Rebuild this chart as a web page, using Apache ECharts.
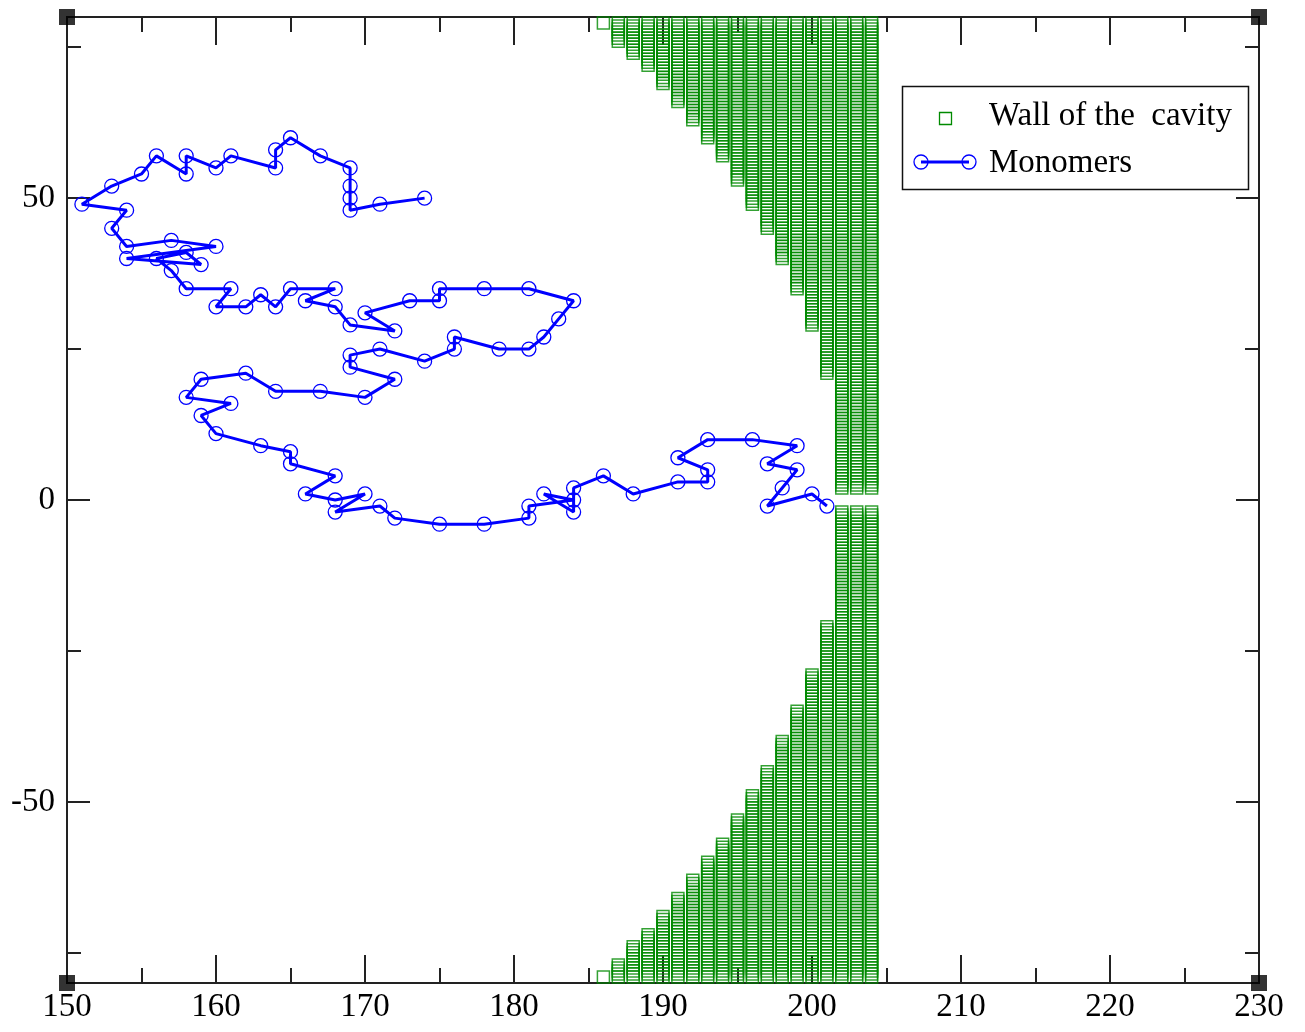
<!DOCTYPE html>
<html><head><meta charset="utf-8">
<script src="https://cdn.jsdelivr.net/npm/echarts@6/dist/echarts.min.js"></script>
<style>html,body{margin:0;padding:0;background:#fff}#c{width:1305px;height:1032px}</style>
</head><body><div id="c"></div>
<script>
// ---- tick labels ----
const xTickLabels = [150, 160, 170, 180, 190, 200, 210, 220, 230];
const xMinorTicks = [155, 165, 175, 185, 195, 205, 215, 225];
const yTickLabels = [-50, 0, 50];
const yMinorTicks = [-75, -25, 25, 75];

// ---- wall of the cavity: lattice columns and the |y| where each column starts ----
const wallColumnX   = [186, 187, 188, 189, 190, 191, 192, 193, 194, 195, 196, 197, 198, 199, 200, 201, 202, 203, 204];
const wallUpperEdge = [79, 76, 74, 72, 69, 66, 63, 60, 57, 53, 49, 45, 40, 35, 29, 21, 2, 2, 2];
const wallLowerEdge = [79, 77, 74, 72, 69, 66, 63, 60, 57, 53, 49, 45, 40, 35, 29, 21, 2, 2, 2];
const wallOuterY = 79;
const wallRowStep = 0.5;

// ---- monomers (chain, in order) ----
const monomerX = [174,171,169,169,169,169,167,165,164,164,
                  161,160,158,158,156,155,153,151,154,153,
                  154,157,160,154,159,158,156,157,158,161,
                  160,162,163,164,165,168,166,168,169,172,
                  170,173,175,175,178,181,184,183,182,181,
                  179,176,176,174,171,169,169,172,170,167,
                  164,162,159,158,161,159,160,163,165,165,
                  168,166,168,170,168,171,172,175,178,181,
                  181,184,182,184,184,186,188,191,193,193,
                  191,193,196,199,197,199,198,197,200,201];
const monomerY = [50,49,48,50,52,55,57,60,58,55,
                  57,55,57,54,57,54,52,49,48,45,
                  42,43,42,40,39,41,40,38,35,35,
                  32,32,34,32,35,35,33,32,29,28,
                  31,33,33,35,35,35,33,30,27,25,
                  25,27,25,23,25,24,22,20,17,18,
                  18,21,20,17,16,14,11,9,8,6,
                  4,1,0,1,-2,-1,-3,-4,-4,-3,
                  -1,0,1,-2,2,4,1,3,3,5,
                  7,10,10,9,6,5,2,-1,1,-1];

// ---- frame corners ----
const cornerX = [150, 230];
const cornerY = [-80, 80];

// ---- build data ----
const wallData = [];
wallColumnX.forEach((x, i) => {
  for (let y = wallUpperEdge[i]; y <= wallOuterY + 1e-9; y += wallRowStep) wallData.push([x, y]);
  for (let y = -wallOuterY; y <= -wallLowerEdge[i] + 1e-9; y += wallRowStep) wallData.push([x, y]);
});
const monoData = monomerX.map((x, i) => [x, monomerY[i]]);
const cornerData = [];
cornerX.forEach(x => cornerY.forEach(y => cornerData.push([x, y])));

const FONT = '"Liberation Serif", "Times New Roman", serif';
const AX = '#222';
const GREEN = '#008a00';
const BLUE = '#0000ff';

function xAx(pos, ticks, len, labels) {
  return {
    type: 'value', position: pos, min: 150, max: 230, interval: 10,
    axisLine: { show: true, onZero: false, lineStyle: { color: AX, width: 2 } },
    axisTick: { show: true, inside: true, length: len, customValues: ticks, lineStyle: { color: '#222', width: 2 } },
    axisLabel: labels ? { show: true, customValues: labels, margin: 8, color: '#000', fontFamily: FONT, fontSize: 33 } : { show: false },
    splitLine: { show: false }
  };
}
function yAx(pos, ticks, len, labels) {
  return {
    type: 'value', position: pos, min: -80, max: 80,
    axisLine: { show: true, onZero: false, lineStyle: { color: AX, width: 2 } },
    axisTick: { show: true, inside: true, length: len, customValues: ticks, lineStyle: { color: '#222', width: 2 } },
    axisLabel: labels ? { show: true, customValues: labels, margin: 12, color: '#000', fontFamily: FONT, fontSize: 33 } : { show: false },
    splitLine: { show: false }
  };
}

const chart = echarts.init(document.getElementById('c'), null, { renderer: 'canvas' });
chart.setOption({
  animation: false,
  backgroundColor: '#fff',
  grid: { left: 67, right: 46, top: 17, bottom: 49, containLabel: false, outerBoundsMode: 'none' },
  xAxis: [
    xAx('bottom', xTickLabels, 28, xTickLabels),
    xAx('bottom', xMinorTicks, 15, null),
    xAx('top', xTickLabels, 28, null),
    xAx('top', xMinorTicks, 15, null)
  ],
  yAxis: [
    yAx('left', yTickLabels, 23, yTickLabels),
    yAx('left', yMinorTicks, 14, null),
    yAx('right', yTickLabels, 23, null),
    yAx('right', yMinorTicks, 14, null)
  ],
  series: [
    {
      name: 'Wall of the  cavity', type: 'scatter', data: wallData,
      symbol: 'rect', symbolSize: 12,
      itemStyle: { color: 'rgba(0,0,0,0)', borderColor: GREEN, borderWidth: 1.5 },
      silent: true, z: 2, large: false
    },
    {
      name: 'Monomers', type: 'line', data: monoData,
      symbol: 'circle', symbolSize: 14, showAllSymbol: true,
      lineStyle: { color: BLUE, width: 3 },
      itemStyle: { color: 'rgba(0,0,0,0)', borderColor: BLUE, borderWidth: 1.3 },
      silent: true, z: 3
    },
    {
      name: 'corners', type: 'scatter', data: cornerData,
      symbol: 'rect', symbolSize: 16, clip: false,
      itemStyle: { color: '#000' }, silent: true, z: 5
    }
  ],
  graphic: [
    { type: 'rect', shape: { x: 902.5, y: 86.5, width: 346, height: 103 },
      style: { fill: '#fff', stroke: '#111', lineWidth: 1.5 }, z: 10 },
    { type: 'rect', shape: { x: 939.5, y: 112.5, width: 12, height: 12 },
      style: { fill: 'none', stroke: GREEN, lineWidth: 1.3 }, z: 11 },
    { type: 'line', shape: { x1: 921, y1: 162, x2: 969, y2: 162 },
      style: { stroke: BLUE, lineWidth: 3 }, z: 11 },
    { type: 'circle', shape: { cx: 921, cy: 162, r: 7 },
      style: { fill: 'none', stroke: BLUE, lineWidth: 1.3 }, z: 11 },
    { type: 'circle', shape: { cx: 969, cy: 162, r: 7 },
      style: { fill: 'none', stroke: BLUE, lineWidth: 1.3 }, z: 11 },
    { type: 'text', x: 989, y: 116, z: 11,
      style: { text: 'Wall of the  cavity', font: '33px ' + FONT, fill: '#000', textVerticalAlign: 'middle', verticalAlign: 'middle' } },
    { type: 'text', x: 989, y: 163, z: 11,
      style: { text: 'Monomers', font: '33px ' + FONT, fill: '#000', textVerticalAlign: 'middle', verticalAlign: 'middle' } }
  ]
});
</script>
</body></html>
